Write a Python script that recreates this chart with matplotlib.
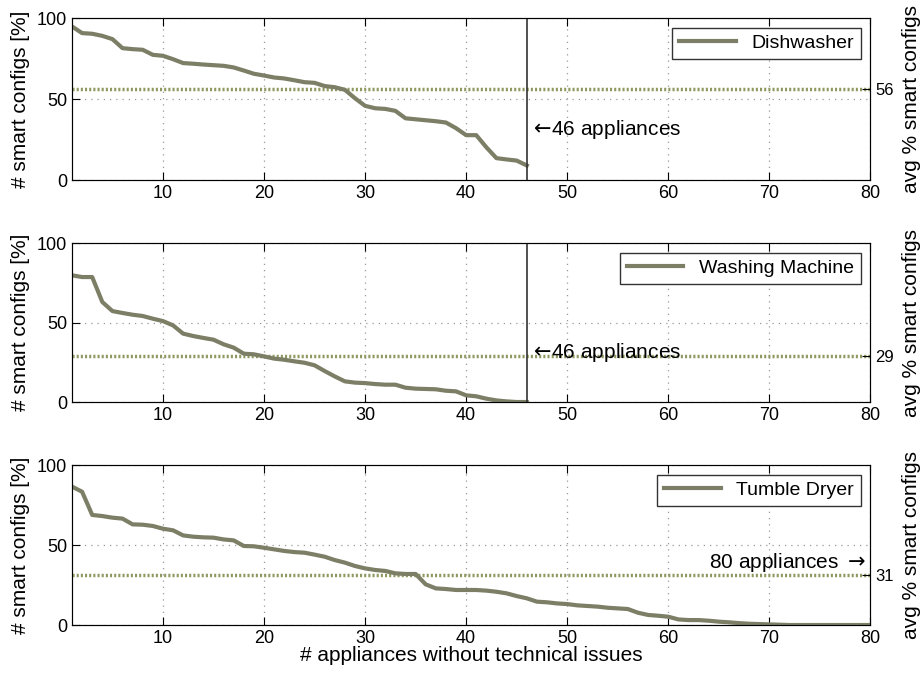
import numpy as np
import matplotlib
matplotlib.use('Agg')
import matplotlib.pyplot as plt

plt.rcParams['font.family'] = ['Liberation Sans', 'DejaVu Sans']

# values
dishwasher = [94.8, 90.7, 90.3, 89, 87, 81.4, 80.8, 80.4, 77.3, 76.7,
              74.6, 72.2, 71.8, 71.3, 70.9, 70.5, 69.5, 67.6, 65.6, 64.5,
              63.3, 62.7, 61.6, 60.4, 60, 58, 57.3, 55.7, 50.5, 45.8,
              44.3, 43.9, 42.7, 38.1, 37.5, 36.9, 36.3, 35.5, 32, 27.7,
              27.7, 20.2, 13.5, 12.7, 12, 9]
washing = [79.7, 78.6, 78.6, 62.9, 57.2, 56, 54.9, 54.1, 52.4, 50.9,
           48.2, 43, 41.5, 40.3, 39.2, 36.3, 34.2, 30.4, 30, 28.7,
           27.3, 26.6, 25.6, 24.7, 23.1, 19.5, 16.1, 13, 12.2, 11.9,
           11.3, 10.9, 10.9, 9, 8.4, 8.2, 8, 7.1, 6.7, 4.2,
           3.6, 2.1, 1, 0.4, 0, 0]
dryer = [86.5, 83.3, 68.8, 68.1, 67.1, 66.5, 62.9, 62.7, 61.9, 60.2,
         59.2, 56, 55.2, 54.8, 54.6, 53.5, 52.9, 49.4, 49.2, 48.3,
         47.3, 46.3, 45.6, 45.2, 44, 42.7, 40.6, 39, 36.9, 35.4,
         34.4, 33.8, 32.3, 31.9, 31.9, 25.4, 22.9, 22.5, 21.9, 21.9,
         21.9, 21.5, 20.8, 19.8, 18.1, 16.7, 14.6, 14.2, 13.5, 13.1,
         12.3, 11.9, 11.5, 10.8, 10.4, 10, 7.7, 6.3, 5.8, 5.2,
         3.5, 3.1, 3.1, 2.7, 2.1, 1.7, 1.2, 0.8, 0.6, 0.4,
         0.2, 0, 0, 0, 0, 0, 0, 0, 0, 0]

names = ['Dishwasher', 'Washing Machine', 'Tumble Dryer']
series = [dishwasher, washing, dryer]
averages = [56, 29, 31]
n_appliances = [46, 46, 80]

LINE_COLOR = '#7c7f66'
AVG_COLOR = '#8d9960'
FS = 13

fig = plt.figure(figsize=(9.23, 6.76), dpi=100)
positions = [[0.078, 0.7337, 0.865, 0.2396],
             [0.078, 0.4053, 0.865, 0.2352],
             [0.078, 0.0754, 0.865, 0.2367]]

for i in range(3):
    ax = fig.add_axes(positions[i])
    vals = series[i]
    xs = np.arange(1, len(vals) + 1)
    ax.plot(xs, vals, color=LINE_COLOR, lw=3, label=names[i], zorder=4)
    ax.axhline(averages[i], color=AVG_COLOR, lw=2.5, ls=(0, (0.6, 0.6)), zorder=3)

    ax.set_xlim(1, 80)
    ax.set_ylim(0, 100)
    ax.set_xticks(range(10, 81, 10))
    ax.set_yticks([0, 50, 100])
    ax.grid(True, ls=(0, (1, 4)), color='#999999', lw=0.9)
    ax.tick_params(direction='in', top=True, right=True, labelsize=FS, length=6)
    ax.set_ylabel('# smart configs [%]', fontsize=FS + 2, labelpad=5)
    for s in ax.spines.values():
        s.set_color('#333333')

    if n_appliances[i] < 80:
        ax.axvline(n_appliances[i], color='#333333', lw=1.2, zorder=5)
        ax.text(n_appliances[i] + 0.2, 31, r'$\leftarrow\!$' + str(n_appliances[i]) + ' appliances',
                fontsize=FS + 2, va='center', ha='left')
    else:
        ax.text(79.6, 39, str(n_appliances[i]) + r' appliances $\rightarrow$',
                fontsize=FS + 2, va='center', ha='right')

    leg = ax.legend(loc='upper right', fontsize=FS + 1, fancybox=False,
                    edgecolor='#333333', framealpha=1, handlelength=2.9,
                    borderaxespad=0.5, borderpad=0.35)
    leg.get_frame().set_linewidth(1.0)

    ax2 = ax.twinx()
    ax2.set_ylim(0, 100)
    ax2.set_yticks([averages[i]])
    ax2.tick_params(direction='in', labelsize=FS - 1, length=6)
    ax2.set_ylabel('avg % smart configs', fontsize=FS + 2, labelpad=6)

    if i == 2:
        ax.set_xlabel('# appliances without technical issues', fontsize=FS + 2, labelpad=-1)

fig.savefig('out.png', dpi=100)
